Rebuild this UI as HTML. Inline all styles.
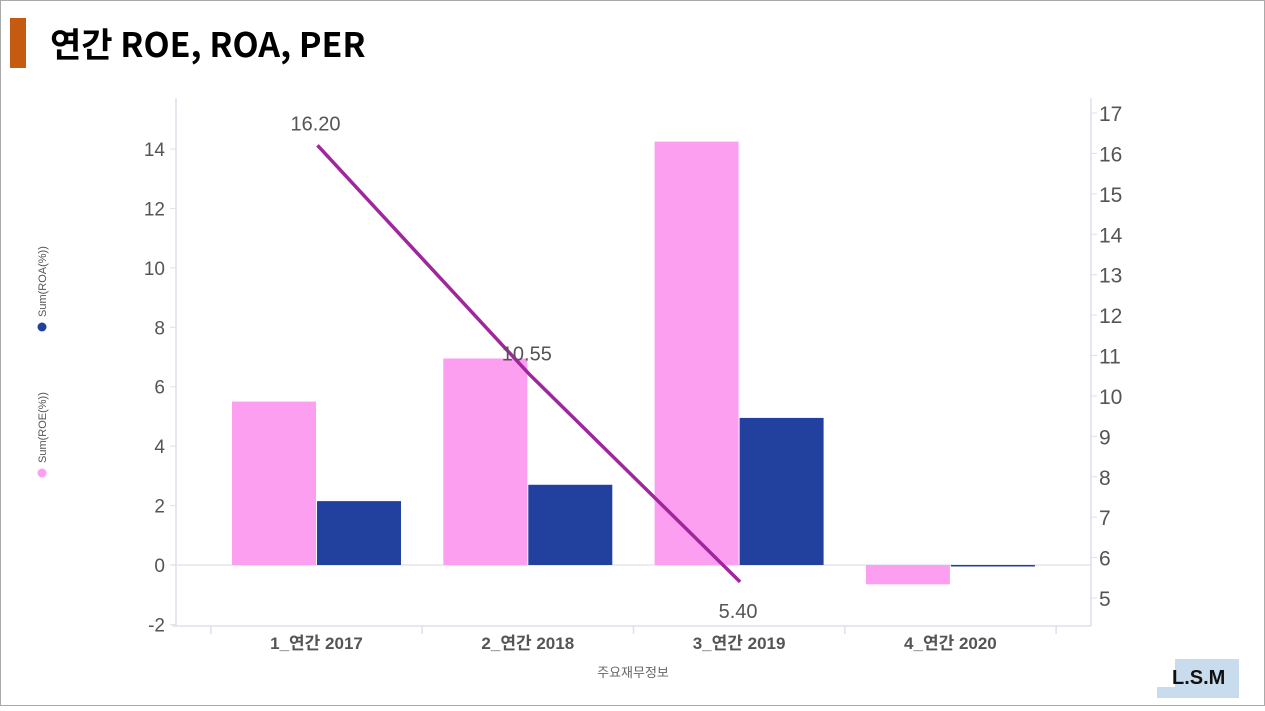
<!DOCTYPE html>
<html><head><meta charset="utf-8"><style>
body{margin:0;width:1265px;height:711px;background:#fff;overflow:hidden;font-family:"Liberation Sans","Noto Sans CJK KR",sans-serif}
#frame{position:absolute;left:0;top:0;width:1263px;height:704px;border:1px solid #aaa}
</style></head><body>
<div id="frame"></div>
<div style="position:absolute;left:10px;top:18px;width:16px;height:50px;background:#c55a11"></div>
<div style="position:absolute;left:50px;top:18px;font-size:34px;font-weight:bold;color:#000;font-family:'Noto Sans CJK KR','Liberation Sans',sans-serif;line-height:50px">연간 ROE, ROA, PER</div>
<div style="position:absolute;left:1175px;top:659px;width:64px;height:39px;background:#c9dcee"></div>
<div style="position:absolute;left:1157px;top:687px;width:20px;height:11px;background:#c9dcee"></div>
<div style="position:absolute;left:1172px;top:667px;font-size:20px;font-weight:bold;color:#111">L.S.M</div>
<svg id="chart" width="1265" height="711" style="position:absolute;left:0;top:0"></svg>
<script>
const categories=["1_연간 2017","2_연간 2018","3_연간 2019","4_연간 2020"];
const roe=[5.5,6.95,14.25,-0.65];
const roa=[2.15,2.7,4.95,-0.05];
const per=[16.2,10.55,5.4,null];
const leftTicks=[-2,0,2,4,6,8,10,12,14];
const rightTicks=[5,6,7,8,9,10,11,12,13,14,15,16,17];
const NS="http://www.w3.org/2000/svg";
const svg=document.getElementById('chart');
const yL=v=>565-v*(416/14);
const yR=v=>113+(17-v)*(485/12);
const xC=i=>316.5+i*211.3;
function mk(t,a,txt){const e=document.createElementNS(NS,t);for(const k in a)e.setAttribute(k,a[k]);if(txt!==undefined)e.textContent=txt;svg.appendChild(e);return e;}
// axes
let e=mk('line',{x1:176,y1:98,x2:176,y2:626,stroke:'#dde0ea','stroke-width':1.5});

e=mk('line',{x1:1091,y1:98,x2:1091,y2:626,stroke:'#dde0ea','stroke-width':1.5});

e=mk('line',{x1:172,y1:626,x2:1091,y2:626,stroke:'#dde0ea','stroke-width':1.5});

e=mk('line',{x1:172,y1:yL(0),x2:1091,y2:yL(0),stroke:'#e3e5ee','stroke-width':1.5});

leftTicks.forEach(v=>{
 const t=mk('text',{x:165,y:yL(v)+7,'text-anchor':'end','font-size':19,fill:'#555'},v);
 
 const l=mk('line',{x1:170,y1:yL(v),x2:176,y2:yL(v),stroke:'#dde0ea'});
 
});
rightTicks.forEach(v=>{
 const t=mk('text',{x:1099,y:yR(v)+8,'font-size':21,fill:'#555'},v);
 
 const l=mk('line',{x1:1091,y1:yR(v),x2:1097,y2:yR(v),stroke:'#dde0ea'});
 
});
for(let i=0;i<=categories.length;i++){
 const x=xC(i)-105.6;
 const l=mk('line',{x1:x,y1:626,x2:x,y2:634,stroke:'#dde0ea','stroke-width':1.5});
 
}
categories.forEach((c,i)=>{
 const t=mk('text',{x:xC(i),y:649,'text-anchor':'middle','font-size':17,fill:'#555','font-weight':'bold'},c);
 
 const y0=yL(0);
 const r1=yL(roe[i]);
 const b1=mk('rect',{x:xC(i)-84.5,y:Math.min(r1,y0),width:84,height:Math.abs(y0-r1),fill:'#fd9ff0'});
 
 const r2=yL(roa[i]);
 const b2=mk('rect',{x:xC(i)+0.5,y:Math.min(r2,y0),width:84,height:Math.max(Math.abs(y0-r2),1.5),fill:'#22419f'});
 
});
const pts=[];per.forEach((v,i)=>{if(v!==null)pts.push([xC(i)+1,yR(v),v]);});
const pl=mk('polyline',{points:pts.map(p=>p[0]+','+p[1]).join(' '),fill:'none',stroke:'#a0279b','stroke-width':3.5});

const labOff=[-22,-20,29];
pts.forEach((p,i)=>{
 const t=mk('text',{x:p[0]-2,y:p[1]+labOff[i]+7,'text-anchor':'middle','font-size':20,fill:'#555'},p[2].toFixed(2));
 
});
let t=mk('text',{x:633,y:677,'text-anchor':'middle','font-size':13,fill:'#666'},'주요재무정보');

let c=mk('circle',{cx:42,cy:473,r:4.5,fill:'#fd9ff0'});

t=mk('text',{x:0,y:0,'font-size':11,fill:'#555',transform:'translate(46,463) rotate(-90)'},'Sum(ROE(%))');

c=mk('circle',{cx:42,cy:327,r:4.5,fill:'#22419f'});

t=mk('text',{x:0,y:0,'font-size':11,fill:'#555',transform:'translate(46,317) rotate(-90)'},'Sum(ROA(%))');

</script>
</body></html>
